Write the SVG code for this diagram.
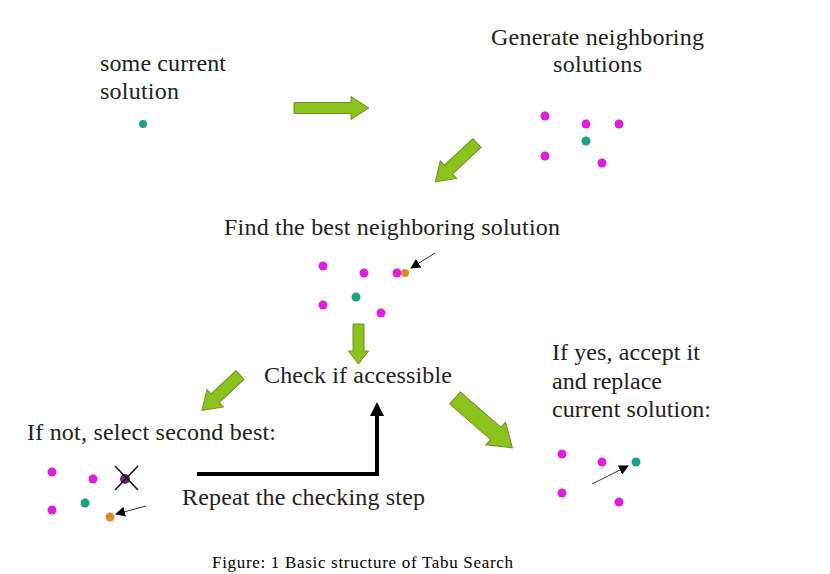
<svg xmlns="http://www.w3.org/2000/svg" width="830" height="574" viewBox="0 0 830 574">
<defs>
<style>
.t{font-family:"Liberation Serif","Times New Roman",serif;font-size:24px;fill:#222}
.cap{font-family:"Liberation Serif","Times New Roman",serif;font-size:17px;fill:#000}
.g{fill:#8cc21c;stroke:#6f8f2a;stroke-width:1}
.m{fill:#dd1fdd}
.c{fill:#1aa383}
.o{fill:#e0892c}
.thin{stroke:#333;stroke-width:1;fill:none}
</style>
<marker id="ah" viewBox="0 0 10 10" refX="9" refY="5" markerWidth="10" markerHeight="10" markerUnits="userSpaceOnUse" orient="auto">
<path d="M0,0 L10,5 L0,10 Z" fill="#000"/>
</marker>
</defs>
<rect width="830" height="574" fill="#fff"/>

<g id="current">
<text class="t" x="100" y="71" textLength="126">some current</text>
<text class="t" x="100" y="99" textLength="79">solution</text>
<circle class="c" cx="143" cy="124" r="4"/>
</g>

<g id="generate">
<text class="t" x="491" y="45" textLength="213">Generate neighboring</text>
<text class="t" x="553" y="72" textLength="89">solutions</text>
<circle class="m" cx="545" cy="116" r="4.5"/>
<circle class="m" cx="586" cy="124" r="4.5"/>
<circle class="m" cx="619" cy="124" r="4.5"/>
<circle class="c" cx="586" cy="141" r="4.5"/>
<circle class="m" cx="545" cy="156" r="4.5"/>
<circle class="m" cx="602" cy="163" r="4.5"/>
</g>

<g id="findbest">
<text class="t" x="224" y="235" textLength="336">Find the best neighboring solution</text>
<circle class="m" cx="323" cy="266" r="4.5"/>
<circle class="m" cx="364" cy="273" r="4.5"/>
<circle class="m" cx="397" cy="273" r="4.5"/>
<circle class="o" cx="405" cy="273" r="4"/>
<circle class="c" cx="356" cy="297" r="4.5"/>
<circle class="m" cx="323" cy="305" r="4.5"/>
<circle class="m" cx="381" cy="313" r="4.5"/>
<line class="thin" x1="435" y1="253" x2="411" y2="268" marker-end="url(#ah)"/>
</g>

<g id="check">
<text class="t" x="264" y="383" textLength="188">Check if accessible</text>
</g>

<g id="ifnot">
<text class="t" x="27" y="440" textLength="249">If not, select second best:</text>
<circle class="m" cx="52" cy="472" r="4.5"/>
<circle class="m" cx="93" cy="479" r="4.5"/>
<circle cx="125" cy="479" r="5" fill="#7a1f7a"/>
<line x1="115" y1="466" x2="138" y2="490" stroke="#111" stroke-width="1.5"/>
<line x1="138" y1="466" x2="115" y2="490" stroke="#111" stroke-width="1.5"/>
<circle class="c" cx="85" cy="503" r="4.5"/>
<circle class="m" cx="52" cy="510" r="4.5"/>
<circle class="o" cx="110" cy="517" r="4.5"/>
<line class="thin" x1="146" y1="506" x2="116" y2="514" marker-end="url(#ah)"/>
</g>

<g id="repeat">
<text class="t" x="182" y="505" textLength="243">Repeat the checking step</text>
</g>

<g id="ifyes">
<text class="t" x="552" y="360" textLength="148">If yes, accept it</text>
<text class="t" x="552" y="389" textLength="110">and replace</text>
<text class="t" x="552" y="417" textLength="159">current solution:</text>
<circle class="m" cx="562" cy="454" r="4.5"/>
<circle class="m" cx="602" cy="462" r="4.5"/>
<circle class="c" cx="636" cy="462" r="4.5"/>
<circle class="m" cx="562" cy="493" r="4.5"/>
<circle class="m" cx="619" cy="502" r="4.5"/>
<line class="thin" x1="592" y1="484" x2="628" y2="466" marker-end="url(#ah)"/>
</g>

<g id="connectors">
<path class="g" transform="translate(294,108)" d="M0,-5.5 H57 V-11.5 L75,0 L57,11.5 V5.5 H0 Z"/>
<path class="g" transform="translate(477,143) rotate(137)" d="M0,-6 H39 V-12 L57,0 L39,12 V6 H0 Z"/>
<path class="g" transform="translate(358.5,324) rotate(90)" d="M0,-5.5 H27 V-10 L40,0 L27,10 V5.5 H0 Z"/>
<path class="g" transform="translate(240,375) rotate(137)" d="M0,-6 H34 V-12 L52,0 L34,12 V6 H0 Z"/>
<path class="g" transform="translate(455,398) rotate(41)" d="M0,-8 H54 V-15 L76,0 L54,15 V8 H0 Z"/>
<path d="M197,474 H377 V414" fill="none" stroke="#000" stroke-width="4"/>
<polygon points="370,416 377,402 384,416" fill="#000"/>
</g>

<text class="cap" x="212" y="568" textLength="301">Figure: 1 Basic structure of Tabu Search</text>
</svg>
